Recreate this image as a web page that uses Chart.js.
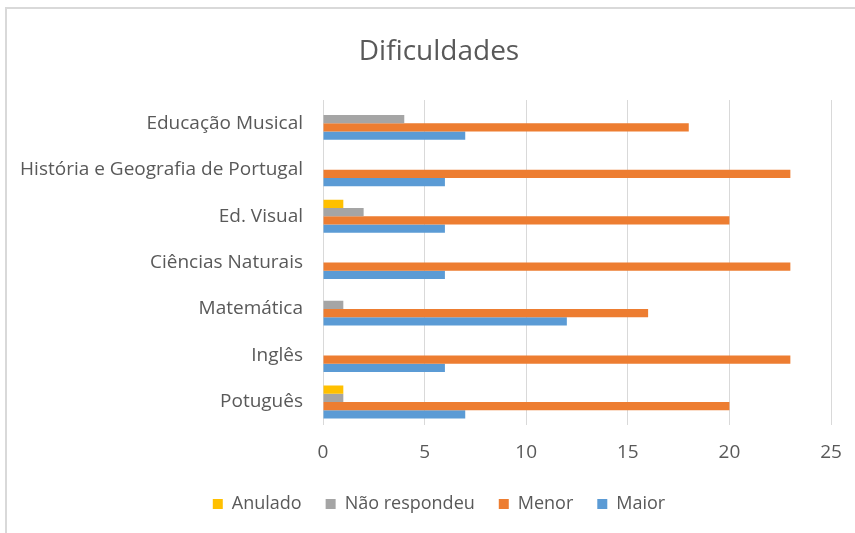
<!DOCTYPE html>
<html><head><meta charset="utf-8">
<script src="https://cdn.jsdelivr.net/npm/chart.js@4"></script>
<style>html,body{margin:0;padding:0;background:#fff;overflow:hidden}#w{width:855px;height:533px;position:relative;overflow:hidden}</style>
</head><body><div id="w"><canvas id="c" width="878" height="533"></canvas></div>
<script>
const categories = ["Educação Musical","História e Geografia de Portugal","Ed. Visual","Ciências Naturais","Matemática","Inglês","Potuguês"];
const anulado = [0,0,1,0,0,0,1];
const naoRespondeu = [4,0,2,0,1,0,1];
const menor = [18,23,20,23,16,23,20];
const maior = [7,6,6,6,12,6,7];
const xTicks = [0,5,10,15,20,25];

const FONT = "'Open Sans', 'Noto Sans', sans-serif";
const TXT = '#595959';
const borderPlugin = {
  id:'border',
  beforeDraw(chart){
    const ctx = chart.ctx;
    ctx.save();
    ctx.strokeStyle = '#d9d9d9';
    ctx.lineWidth = 2;
    ctx.beginPath();
    ctx.moveTo(6, 540); ctx.lineTo(6, 8); ctx.lineTo(900, 8);
    ctx.stroke();
    ctx.restore();
  }
};
new Chart(document.getElementById('c'), {
  type:'bar',
  data:{
    labels: categories,
    datasets:[
      {label:'Anulado', data:anulado, backgroundColor:'#FFC000'},
      {label:'Não respondeu', data:naoRespondeu, backgroundColor:'#A5A5A5'},
      {label:'Menor', data:menor, backgroundColor:'#ED7D31'},
      {label:'Maior', data:maior, backgroundColor:'#5B9BD5'}
    ]
  },
  options:{
    indexAxis:'y',
    responsive:false,
    animation:false,
    layout:{padding:{top:0,right:0,bottom:10,left:0}},
    datasets:{bar:{barPercentage:1, categoryPercentage:0.71}},
    scales:{
      x:{
        min:0,max:25,
        afterBuildTicks(s){ s.ticks = xTicks.map(v=>({value:v})); },
        grid:{color:'#d9d9d9', drawTicks:false},
        border:{display:false},
        ticks:{color:TXT, font:{family:FONT,size:19}, padding:16},
        afterFit(s){ s.height = 45.8; }
      },
      y:{
        grid:{display:false, drawTicks:false},
        border:{display:false},
        ticks:{color:TXT, font:{family:FONT,size:19}, padding:20},
        afterFit(s){ s.width = 323; }
      },
      yRight:{
        type:'category',
        position:'right',
        grid:{display:false, drawTicks:false},
        border:{display:false},
        ticks:{display:false},
        afterFit(s){ s.width = 47; }
      }
    },
    plugins:{
      title:{display:true,text:'Dificuldades',color:TXT,font:{family:FONT,size:28,weight:'normal'},padding:{top:35,bottom:31.4}},
      legend:{position:'bottom',labels:{color:TXT,font:{family:FONT,size:18},boxWidth:10,boxHeight:10,padding:24}},
      tooltip:{enabled:false}
    }
  },
  plugins:[borderPlugin]
});
</script></body></html>
